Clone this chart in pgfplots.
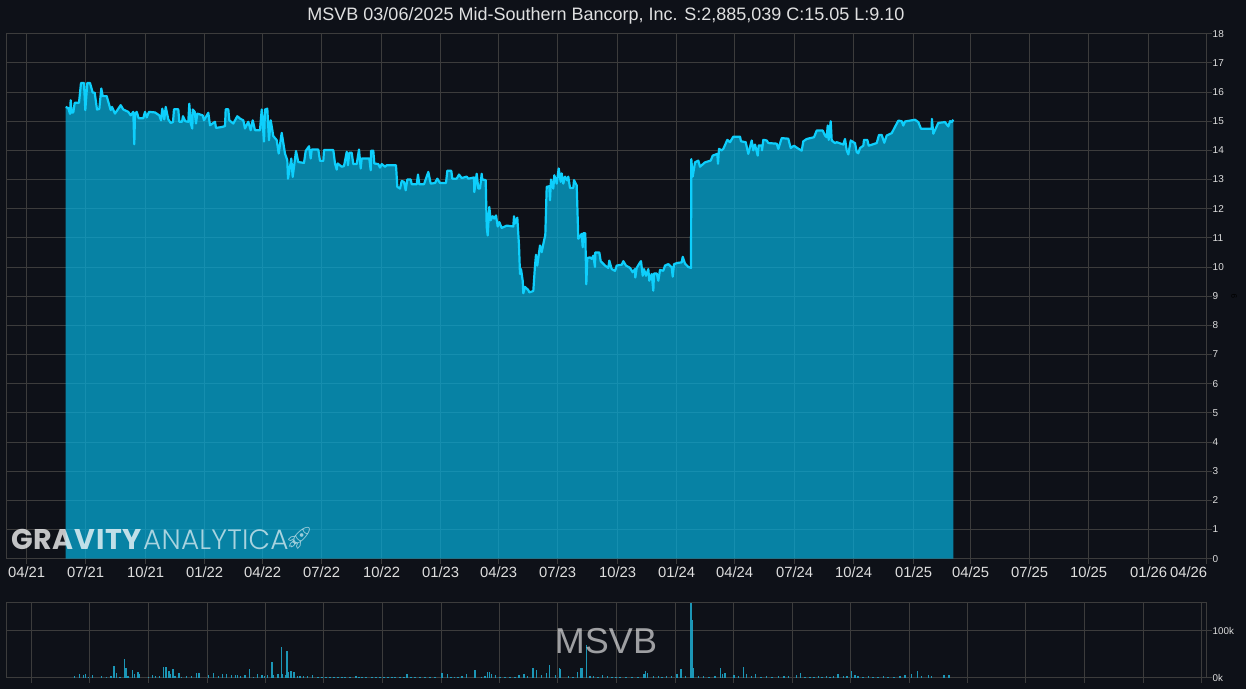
\documentclass[border=0pt]{standalone}
\usepackage{fontspec}
\setmainfont{Liberation Sans}
\usepackage{pgfplots}
\pgfplotsset{compat=1.18}
\usepackage{pgfplotstable}
\newfontfamily\wmbold{Poppins}[UprightFont=* Bold,LetterSpace=2.4]
\newfontfamily\wmlight{Poppins}[UprightFont=* Light,LetterSpace=0.6]
\newfontfamily\emojifont{Noto Emoji}
\definecolor{bg}{RGB}{14,17,24}
\definecolor{gridc}{RGB}{60,60,60}
\definecolor{tickc}{RGB}{222,222,222}
\definecolor{pricefill}{RGB}{5,178,224}
\definecolor{priceline}{RGB}{14,207,252}
\definecolor{volc}{RGB}{30,165,200}
\pgfplotstableread{
x v
65.7 15.49
68.3 15.45
70 15.25
70.7 15.72
71.5 15.3
73.3 15.3
74.7 15.63
79 15.63
81 16.31
84 16.31
85.3 15.38
87.3 16.31
90 16.31
92.7 15.98
94.7 15.98
97 15.4
99.3 15.42
101.3 16.12
102.7 15.86
106.7 15.86
110.7 15.38
112 15.49
115 15.26
120.7 15.55
123.3 15.4
128.3 15.32
130.7 15.2
133.3 15.32
134.3 14.21
135 15.26
136.7 15.32
138.7 15.1
143.3 15.1
145 15.32
146.7 15.13
149 15.32
155 15.3
159.3 15.2
161 15.03
162.3 15.43
164.3 15.06
165.7 15.49
168.3 15.06
170.7 14.94
173 14.97
174 15.41
178.3 15.41
179.3 14.98
182 14.98
183 15.17
185.3 15
188.3 14.98
189.3 15.6
190.7 14.92
192.3 14.75
192.7 15.4
194.7 15.32
196 14.92
197.3 15.26
202.7 15.2
204 15.03
208.3 15.29
210 14.86
215 14.98
216 14.77
221.7 14.8
225 14.83
225.7 15.41
228.3 15.41
229.3 15.03
233.3 14.92
237.3 15.17
240 15.09
243.3 15.03
245 14.75
248.3 14.98
250.7 14.69
252.7 15.03
255 14.69
260 14.69
261.7 15.4
264 14.3
265 15.4
267.3 15.43
269 14.35
270.7 15.03
273.3 14.49
276.7 14.35
278.7 13.89
281.7 14.6
285 13.89
287.3 13.66
288 13.03
291.3 13.72
292.7 13.09
296 13.98
298.3 13.6
304 13.57
305.7 13.98
309 14.14
310.7 13.72
311.7 14.03
318.3 14.03
320 13.64
323.3 13.64
324 14.01
333.3 14.01
335 13.55
336.7 13.34
337.7 13.55
341.7 13.44
344 13.46
346.7 13.95
348 13.49
349.3 13.92
351.7 13.92
353.3 13.53
356.7 13.53
359 14.03
360.7 13.38
361.7 13.72
369.3 13.72
370.7 13.32
371 13.99
373.3 13.99
374.3 13.55
378.3 13.53
380 13.41
381.7 13.53
385 13.44
386.7 13.49
396 13.49
397.3 12.75
400 12.69
401.7 12.95
404 12.92
405.7 12.63
407.3 13
410.7 13
411.7 12.84
416.7 12.84
418 13.17
419.3 12.84
424 12.84
428.3 13.26
430.7 12.86
435 12.88
437.3 13.03
440 12.88
446 12.88
447.3 13.3
451.3 13.3
452.3 13.03
456.7 13.03
459 13.17
461.7 13.05
466.7 13.1
468.3 13.03
474 13.07
474.3 12.57
476.7 13.2
478.3 12.69
480 12.69
481.7 13.2
482.3 13
485.7 12.98
486.7 11.37
487.7 11.08
489.3 12.06
490.7 11.6
492.7 11.74
494.3 11.66
496 11.77
497.7 11.39
499.3 11.54
501.7 11.34
506.7 11.42
513.3 11.39
514 11.74
515 11.49
517.3 11.69
519 10.74
520 9.76
521 9.93
522.7 9.53
523.3 9.1
525 9.32
528.3 9.21
529.3 9.13
533.3 9.18
535 10.05
536 10.42
537.3 10.05
540 10.74
541.7 10.51
544 10.9
545.3 11.1
546.7 12.75
549.3 12.77
550 12.29
551 13
553.3 12.69
554.3 13.15
556.7 12.86
558.7 13.38
560.7 12.92
561.7 13.21
563.3 12.86
565 13.1
567.3 12.97
568.3 13.1
570 12.71
573.3 12.71
574 12.98
576.7 12.8
578.3 10.97
580.7 11.08
581.7 11.14
582.7 10.68
583.3 11.16
585.3 11.16
586.3 9.41
587.3 10.31
590 10.33
591.7 10.28
593.3 10.39
595 10
595.3 10.5
599.3 10.5
600.7 10.2
605 10.05
608.3 9.97
609.3 10.22
611.7 9.93
615 9.87
616.7 10.05
621.7 10.08
623.3 10.2
626 10.05
630 9.97
632.7 9.82
635 9.93
635.3 9.64
636.7 9.97
640 10.16
641 10.2
642.7 9.7
644 9.93
646 9.7
648.3 9.93
649.3 9.53
651.7 9.76
653.3 9.19
654 9.78
656.7 9.78
658.3 9.53
660 9.9
663.3 9.87
665 10.05
668.3 10.1
671.7 9.99
672.7 9.67
674 10.1
677.3 10.14
681.7 10.16
682.7 10.35
685 10.12
688.3 10
691 9.97
691.3 13.7
692.7 13.1
695 13.59
698.3 13.65
700 13.44
705 13.59
710.7 13.65
712.7 13.82
717.3 13.88
718 13.54
719 14.05
721.7 14
723.3 14.05
727.3 14.36
730 14.28
733.3 14.47
740 14.47
741 14.31
745.7 14.28
748.3 13.88
751.7 14.34
753.3 14
755 14.2
757.7 13.82
758.7 14.17
761.7 14.17
762 14
763.3 14.36
766.7 14.34
768.3 14.25
776.7 14.23
778.3 14.05
781.7 14.42
788.3 14.4
790.7 14.08
794 14.16
797.3 14.08
801.7 13.99
803.3 14.31
806.7 14.39
814 14.45
816.7 14.68
822.7 14.68
825 14.51
826.7 14.45
827.7 14.85
828.7 14.36
830.7 15
831.7 14.34
835 14.25
836.7 14.28
843.3 14.2
845 14.39
846.7 14
848.3 13.86
850.7 14.34
853.3 14.28
855 14.25
856.7 13.94
858.3 13.9
860 14.08
863.3 14.16
864 14.36
867.3 14.36
868.7 14.16
876.7 14.25
879 14.53
881.7 14.53
884.3 14.26
886.7 14.51
891.7 14.59
894 14.74
898.3 15.02
901.7 15
903.3 14.85
905 14.99
915 15.05
918.3 14.97
921 14.74
931.7 14.74
931.9 15.08
933.3 14.57
938.3 14.94
945 14.97
948.3 14.82
950 15
951.7 14.97
953.3 15.05
}\pricetable
\pgfplotstableread{
x v
74.7 4
79.3 8.5
83.3 5
85.3 8.5
88.7 1.5
92.7 6.5
101.3 3
106.7 2
111 3
114 24
116.3 10.6
120 2
124.7 40
126 20.5
128 3.5
132.7 15.6
134.7 8.5
138 12.8
139.3 8.5
148.7 1.5
152.7 6.4
155.3 3.5
159.3 3.5
163.7 22.7
166 23.4
169 15
170.3 7
173 18.4
175 4
179 10.6
181.7 2
186.7 3
191.3 4
196.3 10.6
199 10.6
208.3 6.4
213.3 10
218.3 3
222.3 8.5
226.3 7
231.7 6.4
235.7 5
237.7 5
240.7 4
245 5
249.7 19
253.7 2
257.3 7
262 6.4
264.3 4
267.7 5
272 33
273.3 6
278 8.5
281.3 64.5
282.7 7
285.3 5
287 56
288.7 12
291 13.5
294 11.3
297.3 4
300 4
303.3 3
307.3 3
312.7 6.4
318 1
322 1.5
326 1
330 2
334 1
338 2
342 1
345 2
350 1
356 3
359 1
362 2
366 1
372 2
376 1
380 2
384 1
388 1.5
392 1
395 2
400 1
404 1.5
407 8.5
411 1
415 2
420 1
425 1
430 1
435 1
442 10.6
447.3 8.5
451 1
454.3 2
458 1
462 3
466.3 8.5
475 17
481.7 2
485 3
487.7 12.8
489.3 12
491.3 7
495.3 6.4
500 2
505 1
510 1.5
515 1
519 5.7
524 8.5
527.7 4
533 21
536.3 15.6
541.3 6.4
546.7 10.6
549.7 26
555.3 5
559.3 21
560.7 18.4
568.3 3
573 1
577.7 12
581 20.5
582.3 21
586.7 69
590 3.5
593.3 3.5
598 1
602.7 5.7
607.7 3
612 1
616 1
620 1.5
626 1
632 1.5
638 1
644 8.5
645.7 15
647.7 10.6
653.3 3
658.3 3
662 1
666.7 4
671.7 4
677 7
681 19
685.3 3
691 159
692.7 122
693.7 20.5
698.3 3
703.3 3
709 1
715 3
720.7 20.5
722.7 8.5
725 10.6
734 5.7
738.3 3.5
743.7 22.7
746.3 8.5
751.7 4
755.3 8.5
761 2
766.7 3
772 2
778.3 3
784 3
788.3 3
796.7 5.7
800.3 10.6
805 1
810 2
814 1
818.3 3.5
822 2
826.7 3
830 2
833.3 4
838 8.5
843.3 3
847 3
851.7 14
855 6
858 3
863 2
868.3 3
873 2
878 2
883.3 3
888 1
894 2
900 4
905 6
911.7 7
917.7 15
921.7 4
928.3 5
931.7 3
944 6.4
949 5.7
}\voltable
\begin{document}
\begin{tikzpicture}[x=1pt,y=1pt]
\fill[bg] (0,0) rectangle (1246,689);
\begin{axis}[
  at={(6pt,130.3pt)}, anchor=south west,
  width=1200pt, height=525pt, scale only axis,
  xmin=6, xmax=1206, ymin=0, ymax=18,
  axis line style={gridc, line width=1pt},
  grid=major, major grid style={gridc, line width=1pt},
  tick style={gridc, line width=1pt}, major tick length=5.5pt,
  tick align=outside, ytick pos=right, xtick pos=bottom,
  xtick={26,85,145,204,262,321,381,440,498,557,617,676,734,794,853,913,970,1029,1088,1148},
  xticklabels={04/21,07/21,10/21,01/22,04/22,07/22,10/22,01/23,04/23,07/23,10/23,01/24,04/24,07/24,10/24,01/25,04/25,07/25,10/25,01/26},
  extra x ticks={1206}, extra x tick labels={04/26},
  extra x tick style={xticklabel style={xshift=-18pt}},
  ytick={0,1,...,18},
  /pgf/number format/assume math mode=true,
  xticklabel style={font=\fontsize{14.8}{16}\selectfont, text=tickc, inner sep=0pt, yshift=-2pt, xshift=0.6pt},
  yticklabel style={font=\fontsize{10}{11}\selectfont, text=tickc, inner sep=0pt, xshift=1pt},
  clip=true,
]
\addplot[draw=none, fill=pricefill, fill opacity=0.7] table[x=x,y=v] {\pricetable} \closedcycle;
\addplot[priceline, line width=2.2pt, line join=round] table[x=x,y=v] {\pricetable};
\end{axis}
\begin{axis}[
  at={(6pt,11.4pt)}, anchor=south west,
  width=1200pt, height=75pt, scale only axis,
  xmin=6, xmax=1206, ymin=0, ymax=159.6,
  axis line style={gridc, line width=1pt},
  grid=major, major grid style={gridc, line width=1pt},
  tick style={gridc, line width=1pt}, major tick length=5.5pt,
  tick align=outside, ytick pos=right, xtick pos=bottom,
  xtick={31,89,148,207,265,323,382,441,499,557,616,675,733,792,850,909,967,1025,1084,1143,1201},
  xticklabels={},
  ytick={0,100}, yticklabels={0k,100k},
  /pgf/number format/assume math mode=true,
  yticklabel style={font=\fontsize{9.8}{11}\selectfont, text=tickc, inner sep=0pt, xshift=1pt},
]
\addplot[ycomb, volc, line width=1.4pt, opacity=0.9, mark=none] table[x=x,y=v] {\voltable};
\end{axis}
\node[text=white, text opacity=0.87, font=\fontsize{18}{20}\selectfont, inner sep=0pt] at (606,673.5) {MSVB 03/06/2025 Mid-Southern Bancorp, Inc. S:2,885,039 C:15.05 L:9.10};
\node[text=white, text opacity=0.6, font=\fontsize{36}{38}\selectfont, inner sep=0pt] at (606,48) {MSVB};
\node[text=white, text opacity=0.75, anchor=base west, font=\wmbold\fontsize{28.5}{30}\selectfont, inner sep=0pt] at (11,140) {GRAVITY};
\node[text=white, text opacity=0.65, anchor=base west, font=\wmlight\fontsize{28}{30}\selectfont, inner sep=0pt] at (143,140) {ANALYTICA};
\node[text=white, text opacity=0.6, font=\emojifont\fontsize{22}{24}\selectfont, inner sep=0pt] at (299,151) {🚀};
\node[text=black, rotate=90, font=\fontsize{8}{9}\selectfont, inner sep=0pt] at (1234,393) {9};
\end{tikzpicture}
\end{document}
